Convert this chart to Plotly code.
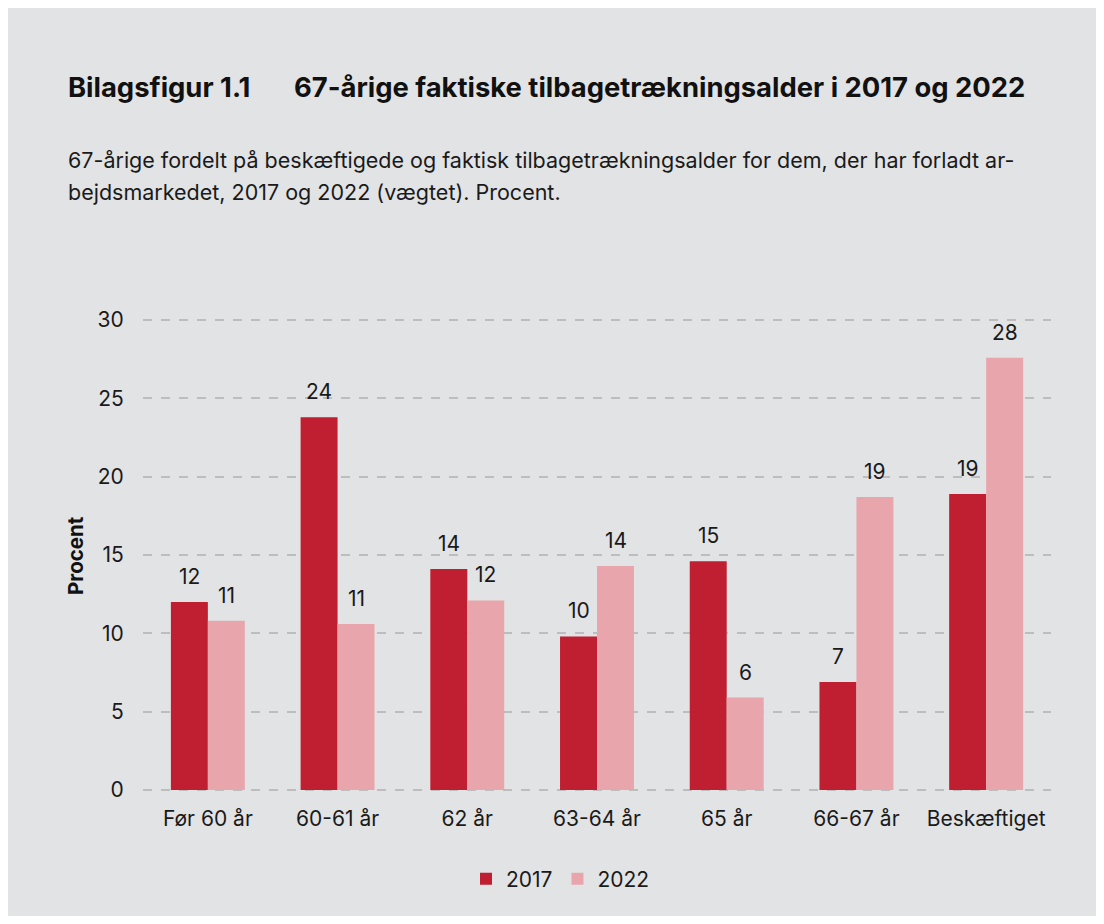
import plotly.graph_objects as go

categories = ["Før 60 år", "60-61 år", "62 år", "63-64 år", "65 år", "66-67 år", "Beskæftiget"]
values_2017 = [12.0, 23.8, 14.1, 9.8, 14.6, 6.9, 18.9]
values_2022 = [10.8, 10.6, 12.1, 14.3, 5.9, 18.7, 27.6]
y_ticks = [0, 5, 10, 15, 20, 25, 30]

# page offset of the figure (default body margin)
OFF = 8
W, H = 1088, 908
# plot area in page coordinates: x 143..1051, y 318..792 (0..30 at 790..320)
L, T = 143 - OFF, 318 - OFF
PW, PH = 908, 474
R, B = W - L - PW, H - T - PH
YPAD = 0.13

def px(x):
    return (x - OFF - L) / PW

def py(y):
    return (T + PH - (y - OFF)) / PH

FONT = "Inter, 'Noto Sans', sans-serif"
TXT = "#1a1a1a"
BG = "#E2E3E5"
C17, C22 = "#C01E31", "#E8A6AC"

fig = go.Figure()
fig.add_trace(go.Bar(x=categories, y=values_2017, name="2017",
                     marker=dict(color=C17, line=dict(width=0))))
fig.add_trace(go.Bar(x=categories, y=values_2022, name="2022",
                     marker=dict(color=C22, line=dict(width=0))))

annotations = []
for vals, shift in ((values_2017, -18.5), (values_2022, 18.5)):
    for c, v in zip(categories, vals):
        annotations.append(dict(x=c, y=v, xref="x", yref="y", text=f"{v:.0f}",
                                xshift=shift, yshift=11, yanchor="bottom", xanchor="center",
                                showarrow=False, font=dict(size=21, color=TXT)))

annotations += [
    dict(text="<b>Bilagsfigur 1.1</b>", xref="paper", yref="paper", x=px(66), y=py(87),
         xanchor="left", yanchor="middle", showarrow=False, font=dict(size=27.4, color="#111")),
    dict(text="<b>67-årige faktiske tilbagetrækningsalder i 2017 og 2022</b>", xref="paper", yref="paper",
         x=px(292), y=py(87), xanchor="left", yanchor="middle", showarrow=False,
         font=dict(size=27.4, color="#111")),
    dict(text="67-årige fordelt på beskæftigede og faktisk tilbagetrækningsalder for dem, der har forladt ar-",
         xref="paper", yref="paper", x=px(66), y=py(160), xanchor="left", yanchor="middle",
         showarrow=False, font=dict(size=21.5, color=TXT)),
    dict(text="bejdsmarkedet, 2017 og 2022 (vægtet). Procent.",
         xref="paper", yref="paper", x=px(66), y=py(192), xanchor="left", yanchor="middle",
         showarrow=False, font=dict(size=21.5, color=TXT)),
    dict(text="<b>Procent</b>", xref="paper", yref="paper", x=px(75), y=py(556),
         xanchor="center", yanchor="middle", textangle=-90, showarrow=False,
         font=dict(size=20.5, color="#111")),
]

fig.update_layout(
    width=W, height=H,
    margin=dict(l=L, r=R, t=T, b=B),
    paper_bgcolor=BG, plot_bgcolor="rgba(0,0,0,0)",
    font=dict(family=FONT, color=TXT, size=21),
    barmode="group", bargap=0.43, bargroupgap=0,
    showlegend=True,
    legend=dict(orientation="h", x=px(466), xanchor="left", y=py(879), yanchor="middle",
                font=dict(size=21, color=TXT), bgcolor="rgba(0,0,0,0)",
                tracegroupgap=0),
    xaxis=dict(showgrid=False, showline=False, zeroline=False,
               ticks="outside", ticklen=8, tickcolor="rgba(0,0,0,0)",
               tickfont=dict(size=21, color=TXT)),
    yaxis=dict(range=[-YPAD, 30 + YPAD], tickvals=y_ticks, showgrid=True, gridcolor="#BDBDBD",
               griddash="dash", gridwidth=1.5, zeroline=False, showline=False,
               ticks="outside", ticklen=14, tickcolor="rgba(0,0,0,0)",
               tickfont=dict(size=21, color=TXT)),
    annotations=annotations,
)

fig.write_html("out.html")
